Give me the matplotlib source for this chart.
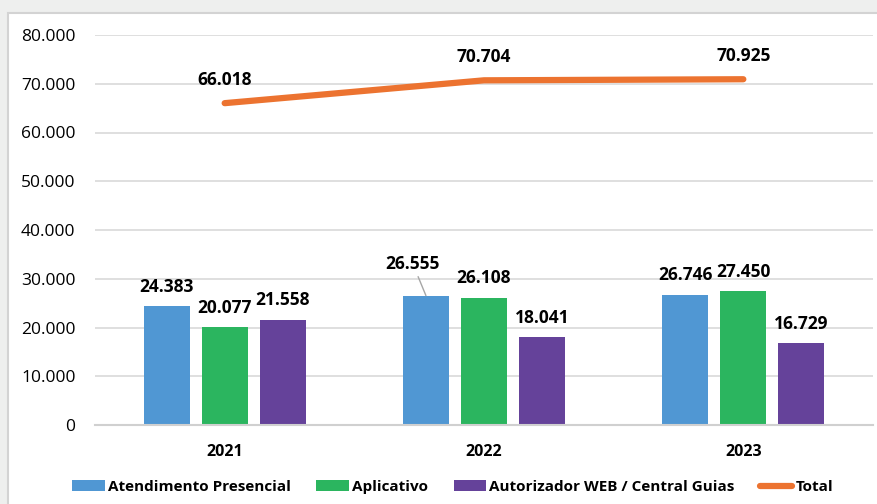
import numpy as np
import matplotlib.pyplot as plt
from matplotlib.patches import Rectangle

plt.rcParams['font.family'] = ['Open Sans', 'DejaVu Sans']

years = ['2021', '2022', '2023']
presencial = [24383, 26555, 26746]
aplicativo = [20077, 26108, 27450]
autorizador = [21558, 18041, 16729]
total = [66018, 70704, 70925]

names = ['Atendimento Presencial', 'Aplicativo', 'Autorizador WEB / Central Guias']
colors = ['#5097d3', '#2bb55f', '#65429a']
orange = '#ec7330'

fig = plt.figure(figsize=(8.78, 5.04), dpi=100)
fig.patch.set_facecolor('#eeefee')
# white chart panel with thin border
fig.add_artist(Rectangle((8 / 878, -0.01), 1.0, 1 - 13 / 504 + 0.01, transform=fig.transFigure,
                         facecolor='white', edgecolor='#d3d3d3', linewidth=1.5, zorder=0))

ax = fig.add_axes([95 / 878, 1 - 425 / 504, 778 / 878, 390 / 504])
ax.set_facecolor('none')

x = np.arange(len(years))
width = 0.177
step = 0.224
series = [presencial, aplicativo, autorizador]
for i, vals in enumerate(series):
    ax.bar(x + (i - 1) * step, vals, width, color=colors[i], label=names[i], zorder=2)

ax.plot(x, total, color=orange, linewidth=4.5, solid_capstyle='round', label='Total', zorder=3)

def fmt(v):
    return f'{v:,}'.replace(',', '.')

lab_kw = dict(ha='center', va='center', fontsize=12.5, fontweight='bold', color='black', zorder=4)
for i, vals in enumerate(series):
    for j, v in enumerate(vals):
        xx = x[j] + (i - 1) * step
        if i == 0 and j == 1:
            # this label sits higher, with a leader line to the bar
            ax.annotate(fmt(v), xy=(xx, v), xytext=(-9.5, 23), textcoords='offset points',
                        arrowprops=dict(arrowstyle='-', color='#a6a6a6', lw=1, shrinkA=1, shrinkB=0),
                        **lab_kw)
        else:
            ax.annotate(fmt(v), xy=(xx, v), xytext=(0, 14), textcoords='offset points', **lab_kw)
for j, v in enumerate(total):
    ax.annotate(fmt(v), xy=(x[j], v), xytext=(0, 17), textcoords='offset points', **lab_kw)

ax.set_xlim(-0.5, 2.5)
ax.set_ylim(0, 80000)
ax.set_yticks(np.arange(0, 80001, 10000))
ax.set_yticklabels(['0'] + [fmt(v) for v in range(10000, 80001, 10000)])
ax.set_xticks(x)
ax.set_xticklabels(years, fontweight='bold')
ax.tick_params(axis='y', length=0, pad=14, labelsize=12.5)
ax.tick_params(axis='x', length=0, pad=14, labelsize=11.5)
ax.grid(axis='y', color='#d9d9d9', linewidth=1.2, zorder=0)
for s in ['top', 'right', 'left']:
    ax.spines[s].set_visible(False)
ax.spines['bottom'].set_color('#d0d0d0')
ax.spines['bottom'].set_linewidth(1.5)

handles, labels = ax.get_legend_handles_labels()
order = [1, 2, 3, 0]
leg = fig.legend([handles[k] for k in order], [labels[k] for k in order],
                 loc='center', bbox_to_anchor=(0.516, 1 - 487 / 504), ncol=4, frameon=False,
                 prop={'weight': 'bold', 'size': 11}, handlelength=2.1, handleheight=0.7,
                 handletextpad=0.25, columnspacing=1.65)

fig.savefig('out.png', dpi=100)
